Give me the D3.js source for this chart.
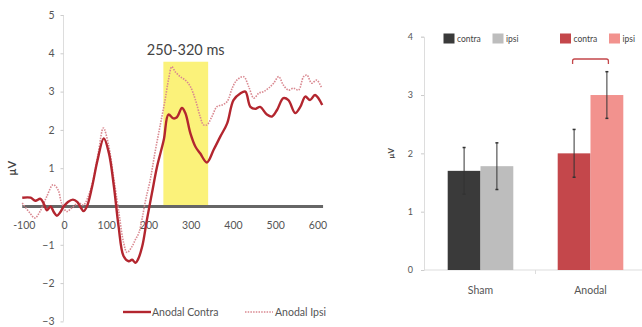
<!DOCTYPE html>
<html><head><meta charset="utf-8">
<script src="https://cdn.jsdelivr.net/npm/d3@7"></script>
<style>body{margin:0;background:#fff}svg{display:block}text{font-family:Lato,"Open Sans",sans-serif}</style>
</head><body><svg id="c" width="642" height="327"></svg>
<script>
// ---- ERP waveform data (time ms, µV) ----
const contraWave = [[-100,0.23],[-80,0.23],[-69,0.15],[-57,0.2],[-48,0.05],[-42,-0.1],[-33,0.0],[-25,-0.15],[-18,-0.24],[-10,-0.15],[-2,0.0],[8,0.12],[20,0.18],[30,0.12],[38,-0.02],[45,-0.12],[53,0.0],[65,0.5],[78,1.2],[93,1.78],[105,1.4],[117,0.52],[128,-0.52],[140,-1.3],[152,-1.43],[160,-1.39],[168,-1.47],[174,-1.38],[184,-1.04],[195,-0.35],[207,0.35],[219,1.04],[235,1.74],[246,2.4],[258,2.3],[266,2.33],[278,2.57],[286,2.44],[298,1.91],[310,1.56],[321,1.39],[337,1.15],[353,1.48],[369,1.83],[385,2.17],[400,2.78],[416,2.95],[428,3.0],[440,2.6],[452,2.55],[463,2.6],[479,2.4],[491,2.35],[503,2.52],[518,2.83],[530,2.78],[546,2.44],[558,2.6],[570,2.87],[581,2.78],[593,2.91],[610,2.65]];
const ipsiWave = [[-100,0.09],[-82,-0.17],[-70,-0.3],[-58,-0.13],[-42,0.26],[-27,0.57],[-15,0.43],[-7,0.09],[5,-0.13],[17,-0.04],[33,0.09],[45,0.04],[56,0.26],[68,0.7],[80,1.4],[92,2.05],[104,1.62],[116,0.78],[128,-0.1],[140,-0.95],[148,-1.2],[160,-1.04],[168,-0.86],[176,-0.69],[184,-0.3],[192,0.17],[203,0.7],[214,1.4],[226,2.09],[238,2.78],[246,3.3],[254,3.65],[262,3.52],[274,3.39],[286,3.3],[298,3.13],[310,2.78],[321,2.35],[329,2.13],[337,2.13],[349,2.35],[361,2.61],[373,2.65],[385,2.74],[397,3.09],[408,3.3],[424,3.39],[436,3.13],[448,2.83],[460,2.96],[471,3.0],[483,3.09],[495,3.22],[507,3.39],[518,3.17],[530,3.04],[542,3.09],[554,3.04],[566,3.39],[574,3.43],[585,3.22],[597,3.3],[609,3.09]];
const waveXTicks = [-100,0,100,200,300,400,500,600];
const waveYTicks = [-3,-2,-1,1,2,3,4,5];
const windowMs = [234,340];
const windowTop = 3.78;
const waveLegend = ["Anodal Contra","Anodal Ipsi"];

// ---- bar chart data ----
const groups = ["Sham","Anodal"];
const contraMeans = [1.7,2.0];
const ipsiMeans = [1.78,3.0];
const contraErr = [0.4,0.41];
const ipsiErr = [0.4,0.4];
const barYTicks = [0,1,2,3,4];
const barColors = {Sham:["#3a3a3a","#bdbdbd"],Anodal:["#c4474b","#f2928e"]};
const barLegend = ["contra","ipsi"];

const svg = d3.select("#c");

// ================= LEFT: waveform =================
const xW = d3.scaleLinear().domain([0,600]).range([64.5,318]);
const yW = d3.scaleLinear().domain([0,5]).range([206.5,15]);
const gW = svg.append("g");

gW.append("rect").attr("x",xW(windowMs[0])).attr("y",yW(windowTop))
  .attr("width",xW(windowMs[1])-xW(windowMs[0])).attr("height",yW(0)-yW(windowTop))
  .attr("fill","#fbf27a");
gW.append("text").attr("x",xW(287)).attr("y",55).attr("text-anchor","middle")
  .attr("font-size",14.5).attr("fill","#444").text("250-320 ms");

const yAx = d3.axisLeft(yW).tickValues(waveYTicks).tickSize(3).tickFormat(d3.format("d"));
const ya = gW.append("g").attr("transform",`translate(${xW(0)-1},0)`).call(yAx);
ya.select(".domain").attr("stroke","#ddd").attr("d",`M0,${yW(5)}V${yW(-3)}`);
ya.selectAll(".tick line").attr("stroke","#ccc");
ya.selectAll(".tick text").attr("fill","#555").attr("font-size",10.5).attr("x",-9);
gW.append("text").attr("transform",`translate(16,${yW(1)}) rotate(-90)`).attr("text-anchor","middle")
  .attr("font-size",11).attr("font-weight","bold").attr("fill","#444").text("µV");

gW.selectAll(".xl").data(waveXTicks).enter().append("text")
  .attr("x",d=>xW(d)+ (d<0?2:0)).attr("y",229).attr("text-anchor","middle")
  .attr("font-size",10.5).attr("fill","#555").text(d=>d);

gW.append("line").attr("x1",xW(-100)).attr("x2",xW(612)).attr("y1",yW(0)).attr("y2",yW(0))
  .attr("stroke","#666").attr("stroke-width",3);

const line = d3.line().x(d=>xW(d[0])).y(d=>yW(d[1])).curve(d3.curveCatmullRom.alpha(0.5));
gW.append("path").attr("d",line(ipsiWave)).attr("fill","none").attr("stroke","#d98890")
  .attr("stroke-width",1.6).attr("stroke-dasharray","1.5,1.2");
gW.append("path").attr("d",line(contraWave)).attr("fill","none").attr("stroke","#b3262f")
  .attr("stroke-width",2.4);

const lg = gW.append("g");
lg.append("line").attr("x1",123).attr("x2",151).attr("y1",312).attr("y2",312).attr("stroke","#b3262f").attr("stroke-width",2.4);
lg.append("text").attr("x",152).attr("y",316).attr("font-size",10.5).attr("fill","#555").text(waveLegend[0]);
lg.append("line").attr("x1",245).attr("x2",273).attr("y1",312).attr("y2",312).attr("stroke","#d98890").attr("stroke-width",1.4).attr("stroke-dasharray","1.5,1.2");
lg.append("text").attr("x",275).attr("y",316).attr("font-size",10.5).attr("fill","#555").text(waveLegend[1]);

// ================= RIGHT: bars =================
const yB = d3.scaleLinear().domain([0,4]).range([270,36.7]);
const x0 = d3.scaleBand().domain(groups).range([447.7,623.3]).paddingInner(0.4036).paddingOuter(0);
const x1 = d3.scaleBand().domain([0,1]).range([0,x0.bandwidth()]);
const gB = svg.append("g");

const yAxB = d3.axisLeft(yB).tickValues(barYTicks).tickSize(3).tickFormat(d3.format("d"));
const yb = gB.append("g").attr("transform","translate(424,0)").call(yAxB);
yb.select(".domain").attr("stroke","#ddd");
yb.selectAll(".tick line").attr("stroke","#ccc");
yb.selectAll(".tick text").attr("fill","#555").attr("font-size",9).attr("x",-11);
gB.append("text").attr("transform",`translate(394,${yB(2)}) rotate(-90)`).attr("text-anchor","middle")
  .attr("font-size",8).attr("font-weight","bold").attr("fill","#444").text("µV");

gB.append("line").attr("x1",424).attr("x2",642).attr("y1",yB(0)).attr("y2",yB(0)).attr("stroke","#ddd");
const midX = (x0("Sham")+x0.bandwidth()+x0("Anodal"))/2;
gB.append("line").attr("x1",midX).attr("x2",midX).attr("y1",yB(0)).attr("y2",yB(0)+4).attr("stroke","#ddd");

const rows = groups.map((g,i)=>[
  {g,k:0,v:contraMeans[i],e:contraErr[i]},
  {g,k:1,v:ipsiMeans[i],e:ipsiErr[i]}]).flat();

gB.selectAll(".bar").data(rows).enter().append("rect")
  .attr("x",d=>x0(d.g)+x1(d.k)).attr("y",d=>yB(d.v))
  .attr("width",x1.bandwidth()).attr("height",d=>yB(0)-yB(d.v))
  .attr("fill",d=>barColors[d.g][d.k]);

const eb = gB.selectAll(".eb").data(rows).enter().append("g")
  .attr("transform",d=>`translate(${x0(d.g)+x1(d.k)+x1.bandwidth()/2},0)`);
eb.append("line").attr("y1",d=>yB(d.v+d.e)).attr("y2",d=>yB(d.v-d.e)).attr("stroke","#333").attr("stroke-width",1);
eb.append("line").attr("x1",-1.5).attr("x2",1.5).attr("y1",d=>yB(d.v+d.e)).attr("y2",d=>yB(d.v+d.e)).attr("stroke","#333").attr("stroke-width",1.5);
eb.append("line").attr("x1",-1.5).attr("x2",1.5).attr("y1",d=>yB(d.v-d.e)).attr("y2",d=>yB(d.v-d.e)).attr("stroke","#333").attr("stroke-width",1.5);

gB.selectAll(".cat").data(groups).enter().append("text")
  .attr("x",d=>x0(d)+x0.bandwidth()/2).attr("y",294).attr("text-anchor","middle")
  .attr("font-size",10.5).attr("fill","#555").text(d=>d);

const bx1 = x0("Anodal")+x1(0)+x1.bandwidth()/2-1.5, bx2 = x0("Anodal")+x1(1)+x1.bandwidth()/2+1.5;
gB.append("path").attr("d",`M${bx1},64 V61 Q${bx1},59 ${bx1+2},59 H${bx2-2} Q${bx2},59 ${bx2},61 V64`)
  .attr("fill","none").attr("stroke","#c4474b").attr("stroke-width",1.3);

const legPos = [[443.5,"Sham"],[560,"Anodal"]];
legPos.forEach(([lx,g])=>{
  const L = gB.append("g").attr("transform",`translate(${lx},33.5)`);
  L.append("rect").attr("width",11).attr("height",10).attr("fill",barColors[g][0]);
  L.append("text").attr("x",13.5).attr("y",8.5).attr("font-size",8.5).attr("fill","#444").text(barLegend[0]);
  L.append("rect").attr("x",49).attr("width",11).attr("height",10).attr("fill",barColors[g][1]);
  L.append("text").attr("x",62.5).attr("y",8.5).attr("font-size",8.5).attr("fill","#444").text(barLegend[1]);
});
</script></body></html>
